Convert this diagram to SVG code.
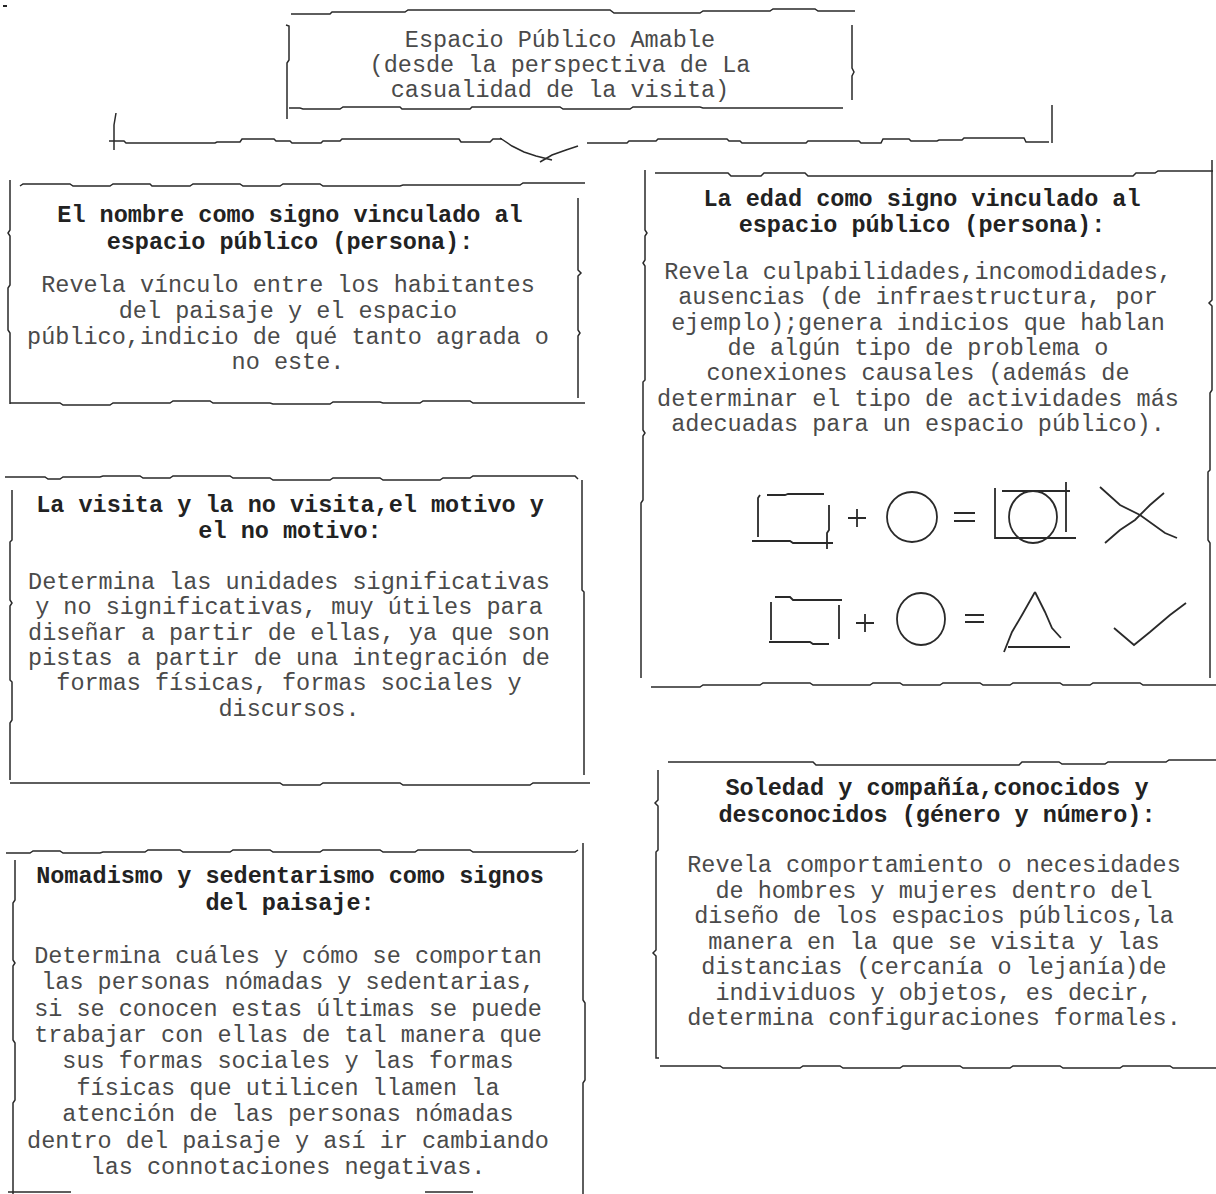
<svg xmlns="http://www.w3.org/2000/svg" width="1216" height="1194" viewBox="0 0 1216 1194">
<style>
.b{fill:none;stroke:#2a2a2a;stroke-width:1.5}
.s{fill:none;stroke:#2a2a2a;stroke-width:1.8}
.t{font-family:"Liberation Mono","Courier New",monospace;font-size:23.5px;fill:#4a4a4a;text-anchor:middle}
.h{font-weight:bold;fill:#222}
</style>
<rect x="0" y="0" width="1216" height="1194" fill="#fff"/>
<rect x="3" y="5" width="4" height="2" fill="#222"/>

<g id="title">
<path class="b" d="M291 14 H330 l2 -2 H405 l3 -2 H610 l4 3 H700 l3 -2 H770 l3 -2 H815 l3 2 H855"/>
<path class="b" d="M286 25 L289 26 V60 l-2 3 V119"/>
<path class="b" d="M852 25 V68 l2 4 l-2 4 V100"/>
<path class="b" d="M289 108 H300 l3 1 H340 l3 -2 H400 l2 2 H470 l2 -2 H560 l3 2 H630 l3 -2 H700 l3 1 H843"/>
<text class="t" x="560" y="47">Espacio Público Amable</text>
<text class="t" x="560" y="72">(desde la perspectiva de La</text>
<text class="t" x="560" y="97">casualidad de la visita)</text>
</g>

<g id="connectors">
<path class="b" d="M116 113 L114 125 V150"/>
<path class="b" d="M109 141 H124 l2 2 H215 l2 -1 H240 l2 -3 H274 l2 2 H290 l2 2 H321 l2 -2 H340 l2 -2 H459 l2 3 H490 l3 -3 H502"/>
<path class="b" d="M500 138 L512 146 L524 152 L536 156 L552 160"/>
<path class="b" d="M540 162 L552 155 L566 150 L578 146"/>
<path class="b" d="M587 143 H627 l2 -2 H656 l2 -2 H727 l2 2 H740 l2 2 H806 l2 -2 H859 l2 2 H881 l2 -4 H909 l2 2 H937 l2 -1 H962 l2 -2 H1024 l2 4 H1049"/>
<path class="b" d="M1052 105 V143"/>
</g>

<g id="box-nombre">
<path class="b" d="M20 186 l3 -2 H70 l3 2 H110 l3 -2 H150 l2 2 H190 l3 -2 H240 l3 2 H280 l3 -2 H320 l3 2 H400 l3 -1 H520 l3 -2 H585"/>
<path class="b" d="M10 180 V230 l-2 3 l2 3 V285 l-2 3 V330 l2 3 V404"/>
<path class="b" d="M578 198 V270 l3 3 l-3 3 V330 l2 3 l-2 3 V398"/>
<path class="b" d="M10 403 H60 l3 2 H110 l3 -2 H170 l3 -2 H210 l3 2 H270 l3 1 H330 l3 -2 H380 l3 1 H420 l3 -2 H470 l3 2 H585"/>
<text class="t h" x="290" y="222">El nombre como signo vinculado al</text>
<text class="t h" x="290" y="249">espacio público (persona):</text>
<text class="t" x="288" y="292">Revela vínculo entre los habitantes</text>
<text class="t" x="288" y="318">del paisaje y el espacio</text>
<text class="t" x="288" y="344">público,indicio de qué tanto agrada o</text>
<text class="t" x="288" y="369">no este.</text>
</g>

<g id="box-visita">
<path class="b" d="M5 477 H45 l3 2 H60 l3 -2 H100 l3 -1 H140 l3 2 H170 l3 -2 H230 l3 2 H270 l3 2 H330 l3 -2 H380 l3 2 H440 l3 -2 H470 l3 -2 H575 l3 3"/>
<path class="b" d="M12 490 V540 l-2 2 V600 l2 3 l-2 3 V680 l2 2 V720 l-2 3 V780"/>
<path class="b" d="M582 480 V590 l2 2 V775"/>
<path class="b" d="M10 783 H280 l3 2 H320 l3 -2 H400 l3 2 H530 l3 -2 H590"/>
<text class="t h" x="290" y="512">La visita y la no visita,el motivo y</text>
<text class="t h" x="290" y="538">el no motivo:</text>
<text class="t" x="289" y="589">Determina las unidades significativas</text>
<text class="t" x="289" y="614">y no significativas, muy útiles para</text>
<text class="t" x="289" y="640">diseñar a partir de ellas, ya que son</text>
<text class="t" x="289" y="665">pistas a partir de una integración de</text>
<text class="t" x="289" y="690">formas físicas, formas sociales y</text>
<text class="t" x="289" y="716">discursos.</text>
</g>

<g id="box-nomadismo">
<path class="b" d="M6 853 H30 l3 -2 H60 l3 2 H100 l3 -1 H145 l3 -2 H180 l3 2 H230 l3 -2 H270 l3 2 H320 l3 -2 H380 l3 2 H415 l3 -2 H470 l3 2 H575 l3 -2"/>
<path class="b" d="M15 860 V900 l-2 3 V960 l2 3 l-2 3 V1040 l2 3 V1100 l-2 3 V1194"/>
<path class="b" d="M583 843 V1000 l2 3 V1080 l-2 3 V1194"/>
<path class="b" d="M8 1192 H71 M425 1192 H473"/>
<text class="t h" x="290" y="883">Nomadismo y sedentarismo como signos</text>
<text class="t h" x="290" y="910">del paisaje:</text>
<text class="t" x="288" y="963">Determina cuáles y cómo se comportan</text>
<text class="t" x="288" y="989">las personas nómadas y sedentarias,</text>
<text class="t" x="288" y="1016">si se conocen estas últimas se puede</text>
<text class="t" x="288" y="1042">trabajar con ellas de tal manera que</text>
<text class="t" x="288" y="1068">sus formas sociales y las formas</text>
<text class="t" x="288" y="1095">físicas que utilicen llamen la</text>
<text class="t" x="288" y="1121">atención de las personas nómadas</text>
<text class="t" x="288" y="1148">dentro del paisaje y así ir cambiando</text>
<text class="t" x="288" y="1174">las connotaciones negativas.</text>
</g>

<g id="box-edad">
<path class="b" d="M655 173 H728 l3 3 H761 l3 -3 H805 l3 3 H1133 l3 -3 H1155 l3 -2 H1213"/>
<path class="b" d="M645 170 V230 l2 3 l-2 3 V260 l-2 3 l2 3 V380 l-2 2 V430 l2 3 l-2 3 V500 l-2 3 V678"/>
<path class="b" d="M1212 160 V300 l-3 3 l3 3 V390 l-2 3 V470 l-2 2 V540 l2 3 V678"/>
<path class="b" d="M651 687 H700 l3 -2 H760 l3 -2 H810 l3 2 H870 l3 -2 H900 l3 2 H940 l3 -2 H980 l3 2 H1010 l3 -2 H1060 l3 2 H1090 l3 -2 H1140 l3 2 H1216"/>
<text class="t h" x="922" y="206">La edad como signo vinculado al</text>
<text class="t h" x="922" y="232">espacio público (persona):</text>
<text class="t" x="918" y="279">Revela culpabilidades,incomodidades,</text>
<text class="t" x="918" y="304">ausencias (de infraestructura, por</text>
<text class="t" x="918" y="330">ejemplo);genera indicios que hablan</text>
<text class="t" x="918" y="355">de algún tipo de problema o</text>
<text class="t" x="918" y="380">conexiones causales (además de</text>
<text class="t" x="918" y="406">determinar el tipo de actividades más</text>
<text class="t" x="918" y="431">adecuadas para un espacio público).</text>
<g id="symbols">
<path class="s" d="M760 495 l-2 3 V537"/>
<path class="s" d="M767 495 H785 l3 -1 H824"/>
<path class="s" d="M829 505 V530 l-2 3 V549"/>
<path class="s" d="M752 541 H790 l3 2 H833"/>
<path class="s" d="M848 518 H866 M857 509 V527"/>
<circle class="s" cx="912" cy="517" r="25"/>
<path class="s" d="M954 513 H975 M954 521 H975"/>
<path class="s" d="M995 488 V538 H1076"/>
<path class="s" d="M1002 491 H1070"/>
<path class="s" d="M1066 482 V532"/>
<ellipse class="s" cx="1033" cy="517" rx="24" ry="26"/>
<path class="s" d="M1100 487 L1120 505 L1140 515 L1165 533 L1177 538"/>
<path class="s" d="M1105 543 L1120 530 L1135 520 L1150 505 L1164 493"/>
<path class="s" d="M771 602 V640 M775 597 H790 l3 3 H842"/>
<path class="s" d="M839 605 V639"/>
<path class="s" d="M769 642 H810 l3 2 H829"/>
<path class="s" d="M856 623 H874 M865 614 V632"/>
<ellipse class="s" cx="921" cy="619" rx="24" ry="26"/>
<path class="s" d="M965 615 H984 M965 622 H984"/>
<path class="s" d="M1035 592 L1022 615 L1012 632 L1004 652"/>
<path class="s" d="M1035 592 L1045 612 L1052 628 L1061 638"/>
<path class="s" d="M1008 647 H1070"/>
<path class="s" d="M1114 628 L1134 645 L1150 632 L1170 615 L1186 603"/>
</g>
</g>

<g id="box-soledad">
<path class="b" d="M668 762 H813 l3 3 H1019 l3 -3 H1059 l3 2 H1105 l3 -2 H1166 l3 -2 H1216"/>
<path class="b" d="M658 770 V800 l-3 3 l3 3 V850 l-2 2 V950 l-3 3 l3 3 V1058 l3 0"/>
<path class="b" d="M660 1066 H720 l3 2 H800 l3 -2 H840 l3 2 H900 l3 -2 H960 l3 2 H1010 l3 -2 H1060 l3 2 H1120 l3 -2 H1170 l3 2 H1216"/>
<text class="t h" x="937" y="795">Soledad y compañía,conocidos y</text>
<text class="t h" x="937" y="822">desconocidos (género y número):</text>
<text class="t" x="934" y="872">Revela comportamiento o necesidades</text>
<text class="t" x="934" y="898">de hombres y mujeres dentro del</text>
<text class="t" x="934" y="923">diseño de los espacios públicos,la</text>
<text class="t" x="934" y="949">manera en la que se visita y las</text>
<text class="t" x="934" y="974">distancias (cercanía o lejanía)de</text>
<text class="t" x="934" y="1000">individuos y objetos, es decir,</text>
<text class="t" x="934" y="1025">determina configuraciones formales.</text>
</g>
</svg>
